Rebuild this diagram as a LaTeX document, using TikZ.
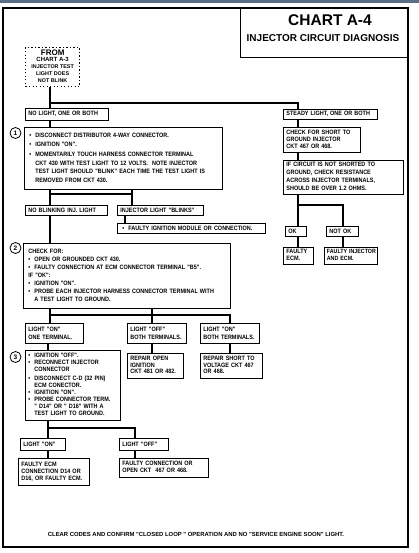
\documentclass[tikz,border=0pt]{standalone}
\usepackage{fontspec}
\newfontfamily\cf{Liberation Sans}
\newfontfamily\cfn{Liberation Sans}[FakeStretch=0.87]
\definecolor{barblue}{HTML}{5A6E88}
\newcommand\bx{\cfn\bfseries\fontsize{6.3}{8}\selectfont}
\newcommand\myb{\makebox[6pt][l]{\textbullet}}
\newcommand\myi{\hspace*{6pt}}
\newcommand\tl[1]{\begin{tabular}{@{}l@{}}#1\end{tabular}}
\begin{document}
\begin{tikzpicture}[x=1pt,y=-1pt,
  box/.style={draw, line width=0.8pt, anchor=north west, inner xsep=3pt, inner ysep=0pt, align=left, font=\bx},
  circ/.style={draw, circle, line width=0.8pt, minimum size=11pt, inner sep=0pt, font=\cf\bfseries\fontsize{6.5}{7}\selectfont},
  conn/.style={line width=1.6pt},
  dotbox/.style={draw, line width=1.3pt, dash pattern=on 1.2pt off 2.3pt, anchor=north west, inner sep=0pt}]
\useasboundingbox (0,0) rectangle (419,553);
\fill[barblue] (0,0) rectangle (419,2.6);
\draw[line width=1.4pt] (3,8) rectangle (408,547);
% title
\node[draw, line width=1pt, anchor=north west, minimum width=168pt, minimum height=49pt, inner sep=0pt] (title) at (240,8) {};
\node[font=\cf\bfseries\fontsize{15.5}{16}\selectfont, inner sep=0pt] (t1) at (330,20) {CHART A-4};
\node[font=\cf\bfseries\fontsize{10}{11}\selectfont, inner sep=0pt] (t2) at (323,38) {INJECTOR CIRCUIT DIAGNOSIS};
% from box
\node[dotbox, minimum width=54pt, minimum height=39pt] (from) at (25,47) {};
\node[align=center, inner sep=0pt, font=\cf\bfseries\fontsize{5.4}{6.8}\selectfont] (fromtxt) at ([yshift=1pt]from.center)
  {{\fontsize{8}{8}\selectfont FROM}\\[-0.5pt]{\fontsize{6}{7}\selectfont CHART A-3}\\INJECTOR TEST\\LIGHT DOES\\NOT BLINK};
% left column
\node[box, minimum height=12pt, text width=77pt] (nolight) at (25,108) {\tl{NO LIGHT, ONE OR BOTH}};
\node[box, inner xsep=5pt, text width=188pt, minimum height=62pt, font=\cfn\bfseries\fontsize{6.3}{8.6}\selectfont] (b1) at (24,127)
  {\tl{\myb DISCONNECT DISTRIBUTOR 4-WAY CONNECTOR.\\\myb IGNITION "ON".\\[1.5pt]\myb MOMENTARILY TOUCH HARNESS CONNECTOR TERMINAL\\\myi CKT 430 WITH TEST LIGHT TO 12 VOLTS.~ NOTE INJECTOR\\\myi TEST LIGHT SHOULD "BLINK" EACH TIME THE TEST LIGHT IS\\\myi REMOVED FROM CKT 430.}};
\node[circ] (c1) at (15.5,133) {1};
\node[box, minimum height=10pt, text width=76pt] (noblink) at (25,205) {\tl{NO BLINKING INJ. LIGHT}};
\node[box, minimum height=10pt, text width=80pt] (blinks) at (117,205) {\tl{INJECTOR LIGHT "BLINKS"}};
\node[box, inner xsep=5pt, minimum height=10pt, text width=138pt] (fign) at (117,223) {\tl{\myb FAULTY IGNITION MODULE OR CONNECTION.}};
\node[box, inner xsep=5pt, text width=197pt, minimum height=65pt] (b2) at (23,243)
  {\tl{CHECK FOR:\\\myb OPEN OR GROUNDED CKT 430.\\\myb FAULTY CONNECTION AT ECM CONNECTOR TERMINAL "B5".\\IF "OK":\\\myb IGNITION "ON".\\\myb PROBE EACH INJECTOR HARNESS CONNECTOR TERMINAL WITH\\\myi A TEST LIGHT TO GROUND.}};
\node[circ] (c2) at (15.5,248) {2};
\node[box, minimum height=20pt, text width=52pt] (on1) at (25,323) {\tl{LIGHT "ON"\\ONE TERMINAL.}};
\node[box, minimum height=20pt, text width=53pt] (offb) at (127,323) {\tl{LIGHT "OFF"\\BOTH TERMINALS.}};
\node[box, minimum height=20pt, text width=53pt] (onb) at (200,323) {\tl{LIGHT "ON"\\BOTH TERMINALS.}};
\node[box, text width=89pt, minimum height=70pt, font=\cfn\bfseries\fontsize{6.3}{7}\selectfont] (b3) at (25,350)
  {\tl{\myb IGNITION "OFF".\\\myb RECONNECT INJECTOR\\\myi CONNECTOR\\[2pt]\myb DISCONNECT C-D (32 PIN)\\\myi ECM CONECTOR.\\\myb IGNITION "ON".\\\myb PROBE CONNECTOR TERM.\\\myi " D14" OR " D16" WITH A\\\myi TEST LIGHT TO GROUND.}};
\node[circ] (c3) at (15.5,357) {3};
\node[box, minimum height=25pt, text width=50pt, font=\cfn\bfseries\fontsize{6.3}{6.6}\selectfont] (ropen) at (127,353) {\tl{REPAIR OPEN\\IGNITION\\CKT 481 OR 482.}};
\node[box, minimum height=25pt, text width=56pt, font=\cfn\bfseries\fontsize{6.3}{6.6}\selectfont] (rshort) at (200,353) {\tl{REPAIR SHORT TO\\VOLTAGE CKT 467\\OR 468.}};
\node[box, minimum height=12pt, text width=39pt] (lon) at (20,438) {\tl{LIGHT "ON"}};
\node[box, minimum height=12pt, text width=43pt] (loff) at (119,438) {\tl{LIGHT "OFF"}};
\node[box, minimum height=27pt, text width=65pt, font=\cfn\bfseries\fontsize{6.3}{6.9}\selectfont] (fecm) at (18,458) {\tl{FAULTY ECM\\CONNECTION D14 OR\\D16, OR FAULTY ECM.}};
\node[box, minimum height=19pt, text width=83pt, font=\cfn\bfseries\fontsize{6.3}{6.9}\selectfont] (fconn) at (119,458) {\tl{FAULTY CONNECTION OR\\OPEN CKT~~467 OR 468.}};
% right column
\node[box, minimum height=10pt, text width=88pt] (steady) at (283,109) {\tl{STEADY LIGHT, ONE OR BOTH}};
\node[box, minimum height=25pt, text width=71pt, font=\cfn\bfseries\fontsize{6.3}{7}\selectfont] (chk) at (283,127) {\tl{CHECK FOR SHORT TO\\GROUND INJECTOR\\CKT 467 OR 468.}};
\node[box, minimum height=34pt, text width=114pt] (ifc) at (283,160) {\tl{IF CIRCUIT IS NOT SHORTED TO\\GROUND, CHECK RESISTANCE\\ACROSS INJECTOR TERMINALS,\\SHOULD BE OVER 1.2 OHMS.}};
\node[box, minimum height=10pt, text width=15pt] (ok) at (285,226) {\tl{OK}};
\node[box, minimum height=10pt, text width=26pt] (notok) at (326,226) {\tl{NOT OK}};
\node[box, minimum height=17pt, text width=24pt, font=\cfn\bfseries\fontsize{6.3}{6.9}\selectfont] (fecm2) at (283,247) {\tl{FAULTY\\ECM.}};
\node[box, minimum height=17pt, text width=48pt, inner xsep=2.5pt, font=\cfn\bfseries\fontsize{6.1}{6.9}\selectfont] (finj) at (324,247) {\tl{FAULTY INJECTOR\\AND ECM.}};
% footer
\node[font=\cf\bfseries\fontsize{5.9}{6.5}\selectfont, inner sep=0pt] (foot) at (196,534) {CLEAR CODES AND CONFIRM "CLOSED LOOP " OPERATION AND NO "SERVICE ENGINE SOON" LIGHT.};
% connector columns
\coordinate (xA) at (50,0);
\coordinate (xB) at (132,0);
\coordinate (xC) at (125,0);
\coordinate (xD) at (152,0);
\coordinate (xE) at (230,0);
\coordinate (xF) at (48,0);
\coordinate (xG) at (135,0);
\coordinate (xR) at (298,0);
\coordinate (xS) at (343,0);
\coordinate (j0) at (50,103);
\coordinate (jB) at (0,194);
\coordinate (jD) at (0,315);
\coordinate (jF) at (0,428);
\coordinate (jR) at (0,205);
% connectors
\draw[conn] (from.south -| xA) -- (nolight.north -| xA);
\draw[conn] (j0) -| (steady.north -| xR);
\draw[conn] (nolight.south -| xA) -- (b1.north -| xA);
\draw[conn] (b1.south -| xA) -- (noblink.north -| xA);
\draw[conn] (b1.south -| xB) -- (blinks.north -| xB);
\draw[conn] (jB -| xA) -- (jB -| xB);
\draw[conn] (blinks.south -| xC) -- (fign.north -| xC);
\draw[conn] (noblink.south -| xA) -- (b2.north -| xA);
\draw[conn] (b2.south -| xA) -- (on1.north -| xA);
\draw[conn] (b2.south -| xD) -- (offb.north -| xD);
\draw[conn] (jD -| xA) -- (jD -| xE) -- (onb.north -| xE);
\draw[conn] (on1.south -| xF) -- (b3.north -| xF);
\draw[conn] (offb.south -| xD) -- (ropen.north -| xD);
\draw[conn] (onb.south -| xE) -- (rshort.north -| xE);
\draw[conn] (b3.south -| xF) -- (lon.north -| xF);
\draw[conn] (jF -| xF) -| (loff.north -| xG);
\draw[conn] (lon.south -| xF) -- (fecm.north -| xF);
\draw[conn] (loff.south -| xG) -- (fconn.north -| xG);
\draw[conn] (steady.south -| xR) -- (chk.north -| xR);
\draw[conn] (chk.south -| xR) -- (ifc.north -| xR);
\draw[conn] (ifc.south -| xR) -- (ok.north -| xR);
\draw[conn] (jR -| xR) -| (notok.north -| xS);
\draw[conn] (ok.south -| xR) -- (fecm2.north -| xR);
\draw[conn] (notok.south -| xS) -- (finj.north -| xS);
\end{tikzpicture}
\end{document}
